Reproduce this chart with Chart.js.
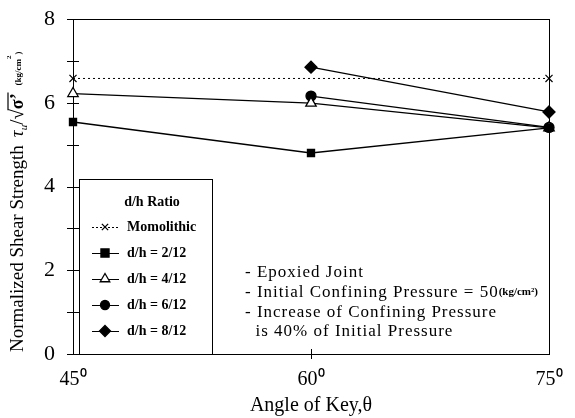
<!DOCTYPE html>
<html>
<head>
<meta charset="utf-8">
<script src="https://cdn.jsdelivr.net/npm/chart.js@4/dist/chart.umd.min.js"></script>
<style>
  html, body { margin: 0; padding: 0; background: #fff; }
  #wrap { width: 575px; height: 418px; position: relative; }
</style>
</head>
<body>
<div id="wrap"><canvas id="c" width="575" height="418"></canvas></div>
<script>
// ---- data ----
const angles = [45, 60, 75];
const angleTicks = [45, 60, 75];
const yTicks = [0, 2, 4, 6, 8];
const yAllTicks = [0, 1, 2, 3, 4, 5, 6, 7, 8];
const monolithic = [6.58, null, 6.58];
const dh2 = [5.54, 4.80, 5.40];
const dh4 = [6.22, 5.99, 5.40];
const dh6 = [null, 6.16, 5.41];
const dh8 = [null, 6.85, 5.78];
const seriesNames = ['Momolithic', 'd/h = 2/12', 'd/h = 4/12', 'd/h = 6/12', 'd/h = 8/12'];
const noteLines = ['- Epoxied Joint', '- Initial Confining Pressure = 50', '- Increase of Confining Pressure', '  is 40% of Initial Pressure'];

const SERIF = '"Liberation Serif", "Times New Roman", serif';
const toPts = arr => angles.map((a, i) => ({ x: a, y: arr[i] }));

const styles = [
  { pointStyle: 'crossRot', radius: 5, fill: '#000', dash: [2, 3] },
  { pointStyle: 'rect', radius: 5, fill: '#000', dash: [] },
  { pointStyle: 'triangle', radius: 6, fill: '#fff', dash: [] },
  { pointStyle: 'circle', radius: 5, fill: '#000', dash: [] },
  { pointStyle: 'rectRot', radius: 6, fill: '#000', dash: [] }
];
const seriesData = [monolithic, dh2, dh4, dh6, dh8];

const datasets = seriesData.map((d, i) => ({
  label: seriesNames[i],
  data: toPts(d),
  borderColor: '#000',
  backgroundColor: styles[i].fill,
  borderWidth: i === 0 ? 1 : 1.3,
  borderDash: styles[i].dash,
  pointStyle: styles[i].pointStyle,
  pointRadius: styles[i].radius,
  pointBorderColor: '#000',
  pointBackgroundColor: styles[i].fill,
  pointBorderWidth: i === 0 ? 1.2 : 1.3,
  spanGaps: true,
  clip: false,
  tension: 0
}));

function drawMarker(ctx, style, r, x, y, fill) {
  ctx.save();
  ctx.fillStyle = fill; ctx.strokeStyle = '#000'; ctx.lineWidth = 1.3;
  ctx.beginPath();
  if (style === 'rect') {
    const s = r * 0.9;
    ctx.rect(x - s, y - s, 2 * s, 2 * s); ctx.fill(); ctx.stroke();
  } else if (style === 'circle') {
    ctx.arc(x, y, r, 0, Math.PI * 2); ctx.fill(); ctx.stroke();
  } else if (style === 'triangle') {
    ctx.moveTo(x, y - r); ctx.lineTo(x + r * 0.87, y + r * 0.5); ctx.lineTo(x - r * 0.87, y + r * 0.5); ctx.closePath();
    ctx.fill(); ctx.stroke();
  } else if (style === 'rectRot') {
    ctx.moveTo(x, y - r); ctx.lineTo(x + r, y); ctx.lineTo(x, y + r); ctx.lineTo(x - r, y); ctx.closePath();
    ctx.fill(); ctx.stroke();
  } else if (style === 'crossRot') {
    const s = r * 0.7;
    ctx.moveTo(x - s, y - s); ctx.lineTo(x + s, y + s);
    ctx.moveTo(x + s, y - s); ctx.lineTo(x - s, y + s);
    ctx.stroke();
  }
  ctx.restore();
}

const frame = {
  id: 'frame',
  beforeDatasetsDraw(chart) {
    const { ctx, chartArea: a, scales: { x, y } } = chart;
    ctx.save();
    ctx.strokeStyle = '#000';
    ctx.lineWidth = 1;
    ctx.strokeRect(a.left + 0.5, a.top + 0.5, a.right - a.left, a.bottom - a.top);
    yAllTicks.forEach(v => {
      const py = Math.round(y.getPixelForValue(v)) + 0.5;
      ctx.beginPath(); ctx.moveTo(a.left - 6, py); ctx.lineTo(a.left + 6, py); ctx.stroke();
    });
    const px = Math.round(x.getPixelForValue(60)) + 0.5;
    ctx.beginPath(); ctx.moveTo(px, a.bottom - 5); ctx.lineTo(px, a.bottom + 5); ctx.stroke();

    // legend box
    const lx = 79, ly = 179, lw = 133, lh = a.bottom - 179;
    ctx.strokeRect(lx + 0.5, ly + 0.5, lw, lh);
    ctx.fillStyle = '#000';
    ctx.font = 'bold 14px ' + SERIF;
    ctx.textAlign = 'center'; ctx.textBaseline = 'middle';
    ctx.fillText('d/h Ratio', 152, 202);
    const rows = [227, 253, 279, 305, 331];
    rows.forEach((ry, i) => {
      ctx.save();
      ctx.strokeStyle = '#000'; ctx.lineWidth = 1;
      ctx.setLineDash(i === 0 ? [2, 2] : []);
      ctx.beginPath(); ctx.moveTo(92, ry + 0.5); ctx.lineTo(119, ry + 0.5); ctx.stroke();
      ctx.restore();
      drawMarker(ctx, styles[i].pointStyle, styles[i].radius - 0.5, 105, ry, styles[i].fill);
      ctx.fillStyle = '#000';
      ctx.font = 'bold 14px ' + SERIF;
      ctx.textAlign = 'left'; ctx.textBaseline = 'middle';
      ctx.fillText(seriesNames[i], 127, ry);
    });

    // notes
    ctx.fillStyle = '#000';
    ctx.textAlign = 'left'; ctx.textBaseline = 'middle';
    const noteY = [273, 293, 313, 332];
    noteLines.forEach((t, i) => {
      ctx.font = '17px ' + SERIF;
      ctx.letterSpacing = '1px';
      ctx.fillText(t, 245, noteY[i]);
      if (i === 1) {
        const w = ctx.measureText(t).width;
        ctx.letterSpacing = '0px';
        ctx.font = 'bold 11px ' + SERIF;
        ctx.fillText('(kg/cm\u00B2)', 245 + w, noteY[i] - 1);
      }
    });
    ctx.letterSpacing = '0px';

    // y-axis title (rotated, mixed sizes)
    ctx.save();
    ctx.translate(23, 352);
    ctx.rotate(-Math.PI / 2);
    ctx.fillStyle = '#000';
    ctx.textBaseline = 'alphabetic';
    ctx.textAlign = 'left';
    ctx.font = '19px ' + SERIF;
    const t1 = 'Normalized Shear Strength';
    ctx.fillText(t1, 0, 0);
    let cx = ctx.measureText(t1).width + 8;
    ctx.font = 'italic 19px ' + SERIF;
    ctx.fillText('\u03C4', cx, 0);
    cx += ctx.measureText('\u03C4').width;
    ctx.font = 'italic 11px ' + SERIF;
    ctx.fillText('u', cx, 4);
    cx += ctx.measureText('u').width;
    ctx.font = '19px ' + SERIF;
    ctx.fillText('/\u221A', cx, 0);
    cx += ctx.measureText('/\u221A').width;
    const sig = '\u03C3\u2019';
    ctx.font = 'bold 18px ' + SERIF;
    ctx.fillText(sig, cx, 0);
    const sw = ctx.measureText(sig).width;
    ctx.lineWidth = 1.2;
    ctx.beginPath(); ctx.moveTo(cx - 1, -15); ctx.lineTo(cx + sw + 1, -15); ctx.stroke();
    cx += sw + 8;
    ctx.font = 'bold 9px ' + SERIF;
    ctx.fillText('(kg/cm', cx, -2);
    cx += ctx.measureText('(kg/cm').width;
    ctx.font = 'bold 7px ' + SERIF;
    ctx.fillText('2', cx, -12);
    cx += ctx.measureText('2').width + 1;
    ctx.font = 'bold 9px ' + SERIF;
    ctx.fillText(')', cx, -2);
    ctx.restore();
    ctx.restore();
  }
};

new Chart(document.getElementById('c'), {
  type: 'line',
  data: { datasets },
  options: {
    responsive: false,
    animation: false,
    layout: { padding: { top: 19, right: 26, left: 0, bottom: 0 } },
    plugins: { legend: { display: false }, tooltip: { enabled: false } },
    scales: {
      x: {
        type: 'linear', min: 45, max: 75,
        afterBuildTicks: s => { s.ticks = angleTicks.map(v => ({ value: v })); },
        afterFit: s => { s.height = 64; s.paddingLeft = 0; s.paddingRight = 0; },
        grid: { display: false },
        border: { display: true, color: '#000', width: 1 },
        ticks: {
          color: '#000', padding: 6,
          font: { family: SERIF, size: 20 },
          callback: v => v + '\u2070'
        },
        title: {
          display: true, text: 'Angle of Key,\u03B8', color: '#000',
          font: { family: SERIF, size: 20 }, padding: { top: 0, bottom: 0 }
        }
      },
      y: {
        min: 0, max: 8,
        afterBuildTicks: s => { s.ticks = yTicks.map(v => ({ value: v })); },
        afterFit: s => { s.width = 73; s.paddingTop = 0; s.paddingBottom = 0; },
        grid: { display: false },
        border: { display: true, color: '#000', width: 1 },
        ticks: {
          color: '#000', padding: 10,
          font: { family: SERIF, size: 22 }
        }
      }
    }
  },
  plugins: [frame]
});
</script>
</body>
</html>
